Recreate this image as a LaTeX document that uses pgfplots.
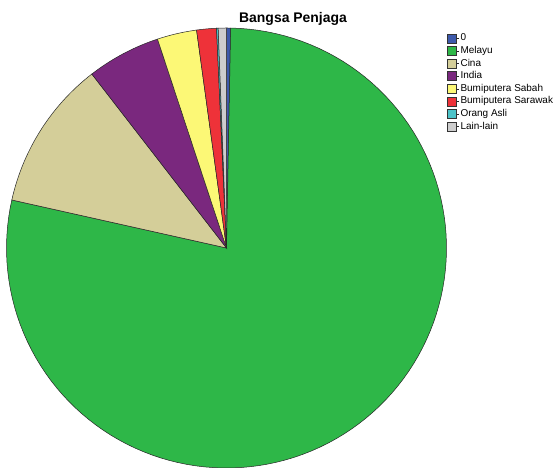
\documentclass[border=0pt]{standalone}
\usepackage{fontspec}
\setmainfont{Liberation Sans}
\usepackage{pgfplots}
\pgfplotsset{compat=1.18}
\definecolor{cZero}{RGB}{61,89,171}
\definecolor{cMel}{RGB}{46,183,72}
\definecolor{cCina}{RGB}{212,206,153}
\definecolor{cInd}{RGB}{122,40,126}
\definecolor{cSab}{RGB}{252,248,118}
\definecolor{cSar}{RGB}{238,50,57}
\definecolor{cOA}{RGB}{76,195,200}
\definecolor{cLain}{RGB}{205,205,205}
% slice values (percent)
\def\dA{0.3}\def\dB{78.1}\def\dC{11.0}\def\dD{5.4}
\def\dE{2.9}\def\dF{1.45}\def\dG{0.12}\def\dH{0.6}
\pgfmathsetmacro\tot{\dA+\dB+\dC+\dD+\dE+\dF+\dG+\dH}
\pgfmathsetmacro\aA{90}
\pgfmathsetmacro\aB{\aA-360*(\dA/\tot)}
\pgfmathsetmacro\aC{\aB-360*(\dB/\tot)}
\pgfmathsetmacro\aD{\aC-360*(\dC/\tot)}
\pgfmathsetmacro\aE{\aD-360*(\dD/\tot)}
\pgfmathsetmacro\aF{\aE-360*(\dE/\tot)}
\pgfmathsetmacro\aG{\aF-360*(\dF/\tot)}
\pgfmathsetmacro\aH{\aG-360*(\dG/\tot)}
\pgfmathsetmacro\aI{\aH-360*(\dH/\tot)}
\begin{document}
\begin{tikzpicture}
\begin{axis}[x=1bp,y=1bp,xmin=0,xmax=559,ymin=0,ymax=468,hide axis,clip=false,
  legend style={at={(axis cs:446.5,436)},anchor=north west,draw=none,fill=none,inner sep=0pt,
    font=\fontsize{10}{12}\selectfont,row sep=0pt,
    nodes={inner sep=1.3bp,text height=7.4bp,text depth=2.6bp}},
  legend cell align=left,
  legend image code/.code={\path (0bp,0bp) -- (12bp,0bp);\draw[#1,line width=0.6bp,draw=black!80] (0bp,-4.5bp) rectangle (9bp,4.5bp);},
  pie/.style={draw=black!85,line width=0.5bp,samples=120,variable=\t}]
\addplot[pie,fill=cZero,domain=\aB:\aA] ({226.5+220*cos(\t)},{220+220*sin(\t)}) -- (axis cs:226.5,220) -- cycle;
\addlegendentry{0}
\addplot[pie,fill=cMel,domain=\aC:\aB] ({226.5+220*cos(\t)},{220+220*sin(\t)}) -- (axis cs:226.5,220) -- cycle;
\addlegendentry{Melayu}
\addplot[pie,fill=cCina,domain=\aD:\aC] ({226.5+220*cos(\t)},{220+220*sin(\t)}) -- (axis cs:226.5,220) -- cycle;
\addlegendentry{Cina}
\addplot[pie,fill=cInd,domain=\aE:\aD] ({226.5+220*cos(\t)},{220+220*sin(\t)}) -- (axis cs:226.5,220) -- cycle;
\addlegendentry{India}
\addplot[pie,fill=cSab,domain=\aF:\aE] ({226.5+220*cos(\t)},{220+220*sin(\t)}) -- (axis cs:226.5,220) -- cycle;
\addlegendentry{Bumiputera Sabah}
\addplot[pie,fill=cSar,domain=\aG:\aF] ({226.5+220*cos(\t)},{220+220*sin(\t)}) -- (axis cs:226.5,220) -- cycle;
\addlegendentry{Bumiputera Sarawak}
\addplot[pie,fill=cOA,domain=\aH:\aG] ({226.5+220*cos(\t)},{220+220*sin(\t)}) -- (axis cs:226.5,220) -- cycle;
\addlegendentry{Orang Asli}
\addplot[pie,fill=cLain,domain=\aI:\aH] ({226.5+220*cos(\t)},{220+220*sin(\t)}) -- (axis cs:226.5,220) -- cycle;
\addlegendentry{Lain-lain}
\node[font=\bfseries\fontsize{14}{16}\selectfont,anchor=base] at (axis cs:293,445.7) {Bangsa Penjaga};
\end{axis}
\pgfresetboundingbox
\path (current axis.south west) rectangle (current axis.north east);
\end{tikzpicture}
\end{document}
